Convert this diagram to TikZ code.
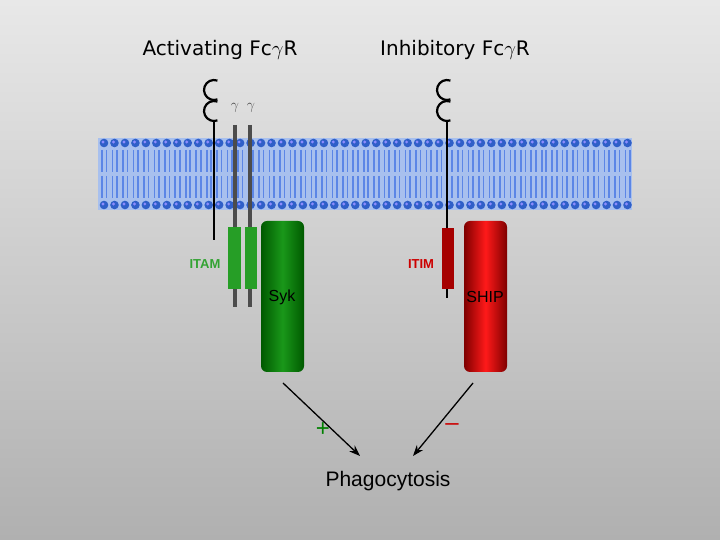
\documentclass[tikz,border=0pt]{standalone}
\usepackage{fontspec}
\setmainfont{Liberation Sans}
\newfontfamily\titlefont{DejaVu Sans}
\usetikzlibrary{arrows.meta}
\definecolor{band}{HTML}{A8C0EE}
\definecolor{tail}{HTML}{5C86E6}
\definecolor{head}{HTML}{2F5FC8}
\begin{document}
\begin{tikzpicture}[x=1pt,y=1pt,
  rec/.style={line width=2.2pt,black},
  gam/.style={line width=3.5pt,gray!60!black},
  curl/.style={line width=2.2pt,black},
  arr/.style={line width=1.3pt,-{Stealth[length=11pt,width=8pt]}},
  enz/.style={rounded corners=6pt,minimum width=43pt,minimum height=151pt,inner sep=0pt},
  lab/.style={font=\fontsize{13}{14}\selectfont\bfseries}]
\shade[top color=gray!18,bottom color=gray!62] (0,0) rectangle (720,540);
\useasboundingbox (0,0) rectangle (720,540);
% membrane
\fill[band] (98,330) rectangle (632,402);
\foreach \i in {0,...,50}{
  \pgfmathsetmacro\xx{104+10.47*\i}
  \draw[tail,line width=1.6pt] (\xx-2,390)--(\xx-2,368) (\xx+2.5,390)--(\xx+2.5,368)
     (\xx-2,364)--(\xx-2,342) (\xx+2.5,364)--(\xx+2.5,342);
  \fill[head] (\xx,397) circle (4.3);
  \fill[head] (\xx,335) circle (4.3);
  \fill[blue!45!white] (\xx-1,398) circle (1.6);
  \fill[blue!45!white] (\xx-1,336) circle (1.6);
}
% titles
\node[font=\titlefont\fontsize{20}{22}\selectfont] (tact) at (220,490) {Activating Fc$\gamma$R};
\node[font=\titlefont\fontsize{20}{22}\selectfont] (tinh) at (455,490) {Inhibitory Fc$\gamma$R};
% activating receptor
\draw[curl] (214,450)++(70:10) arc(70:290:10);
\draw[curl] (214,429)++(70:10) arc(70:290:10);
\draw[rec] (214,419) -- (214,300);
\draw[gam] (235,415) -- (235,233);
\draw[gam] (250,415) -- (250,233);
\node[text=gray!60!black,font=\titlefont\fontsize{15}{15}\selectfont] (g1) at (235,432) {$\gamma$};
\node[text=gray!60!black,font=\titlefont\fontsize{15}{15}\selectfont] (g2) at (251,432) {$\gamma$};
\fill[green!55!black!85] (228,251) rectangle (241,313);
\fill[green!55!black!85] (245,251) rectangle (257,313);
\node[lab,text=green!55!black!80] (itam) at (205,276) {ITAM};
% inhibitory receptor
\draw[curl] (447,450)++(70:10) arc(70:290:10);
\draw[curl] (447,429)++(70:10) arc(70:290:10);
\draw[rec] (447,419) -- (447,242);
\fill[red!65!black] (442,251) rectangle (454,312);
\node[lab,text=red!80!black] (itim) at (421,276) {ITIM};
% enzymes
\node[enz,left color=green!35!black,right color=green!35!black,middle color=green!55!black!90] (syk) at (282.5,243.5) {};
\node[font=\fontsize{16}{16}\selectfont] at (282,243) {Syk};
\node[enz,left color=red!50!black,right color=red!50!black,middle color=red!90!white] (ship) at (485.5,243.5) {};
\node[font=\fontsize{16}{16}\selectfont] at (485,243) {SHIP};
% phagocytosis
\node[font=\fontsize{21}{24}\selectfont] (ph) at (388,59) {Phagocytosis};
\coordinate (s1) at (283,157);
\coordinate (s2) at (473,157);
\draw[arr] (s1) -- (360,84);
\draw[arr] (s2) -- (413,84);
\node[text=green!50!black,font=\fontsize{24}{24}\selectfont] (plus) at (323,110) {+};
\node[text=red!80!black,font=\fontsize{24}{24}\selectfont] (minus) at (452,113) {\textendash};
\end{tikzpicture}
\end{document}
